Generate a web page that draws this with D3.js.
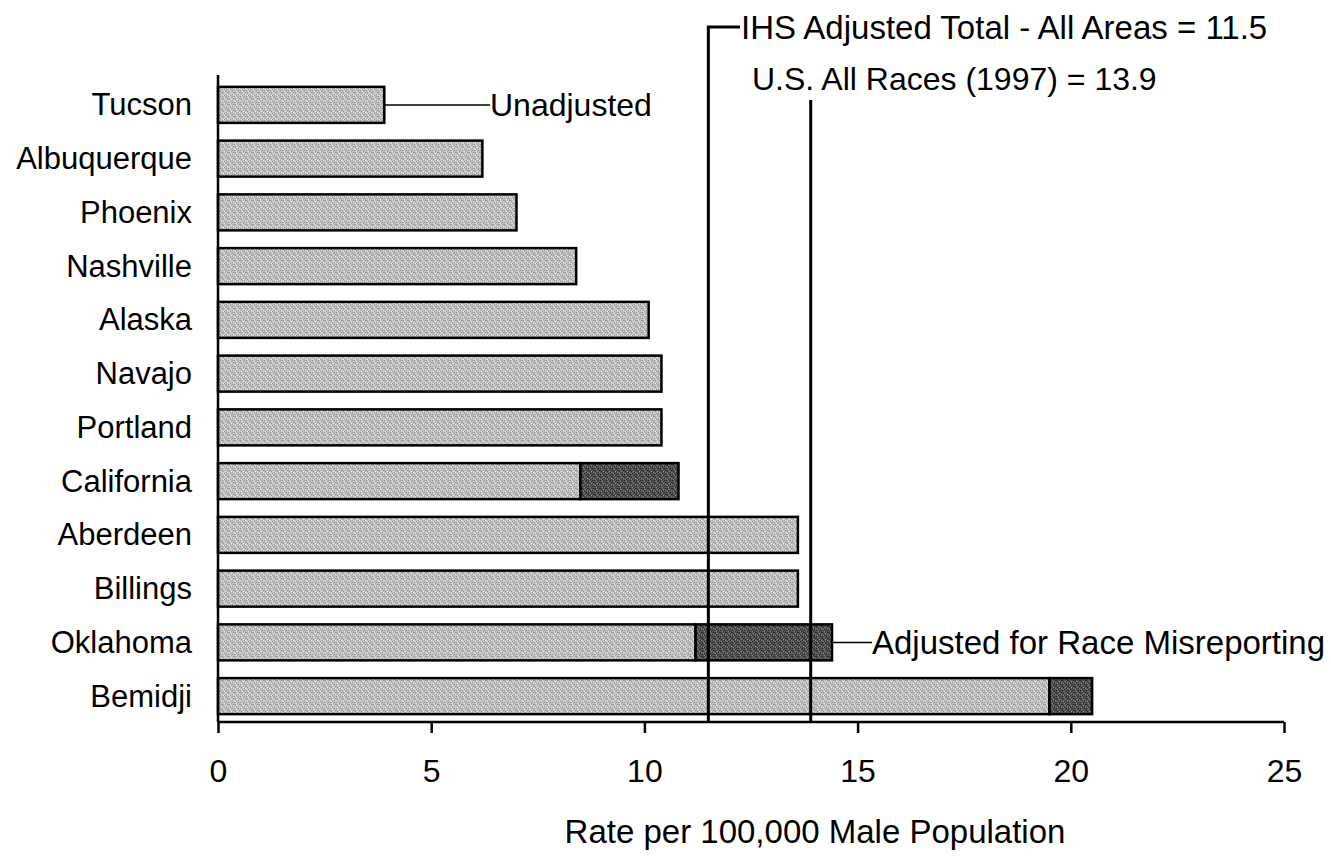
<!DOCTYPE html>
<html>
<head>
<meta charset="utf-8">
<script src="https://cdn.jsdelivr.net/npm/d3@7"></script>
<style>
  html, body { margin: 0; padding: 0; background: #fff; }
  svg { display: block; }
  text { font-family: Arial, "Liberation Sans", sans-serif; fill: #000; }
</style>
</head>
<body>
<svg id="chart" width="1331" height="856"></svg>
<script>
// ---- data ----
const categories = ["Tucson", "Albuquerque", "Phoenix", "Nashville", "Alaska", "Navajo",
                    "Portland", "California", "Aberdeen", "Billings", "Oklahoma", "Bemidji"];
const unadjusted = [3.9, 6.2, 7.0, 8.4, 10.1, 10.4, 10.4, 8.5, 13.6, 13.6, 11.2, 19.5];
const adjusted   = [3.9, 6.2, 7.0, 8.4, 10.1, 10.4, 10.4, 10.8, 13.6, 13.6, 14.4, 20.5];
const xTicks = [0, 5, 10, 15, 20, 25];
const refLines = [
  { label: "IHS Adjusted Total - All Areas = 11.5", value: 11.5 },
  { label: "U.S. All Races (1997) = 13.9", value: 13.9 }
];
const xTitle = "Rate per 100,000 Male Population";

// ---- layout ----
const svg = d3.select("#chart");
const x = d3.scaleLinear().domain([0, 25]).range([218, 1284]);
const y = d3.scaleBand().domain(categories).range([78, 723]).paddingInner(0.33).paddingOuter(0.165);
const axisY = 722;
const FS = 31, FS2 = 33;

// patterns (halftone look)
const defs = svg.append("defs");
function halftone(id, base, dark, light) {
  const p = defs.append("pattern").attr("id", id).attr("patternUnits", "userSpaceOnUse")
    .attr("width", 6).attr("height", 6);
  p.append("rect").attr("width", 6).attr("height", 6).attr("fill", base);
  [[0,0],[3,1],[5,2],[1,3],[4,4],[2,5],[0,2],[4,0]].forEach(([a,b]) => p.append("rect").attr("x", a).attr("y", b).attr("width", 1).attr("height", 1).attr("fill", dark));
  [[2,1],[5,4],[1,5],[3,3]].forEach(([a,b]) => p.append("rect").attr("x", a).attr("y", b).attr("width", 1).attr("height", 1).attr("fill", light));
}
halftone("lightPat", "#c2c2c2", "#959595", "#ececec");
halftone("darkPat", "#545454", "#262626", "#8a8a8a");

// bars
const g = svg.append("g");
categories.forEach((c, i) => {
  g.append("rect")
    .attr("x", x(0)).attr("y", y(c))
    .attr("width", x(unadjusted[i]) - x(0)).attr("height", y.bandwidth())
    .attr("fill", "url(#lightPat)").attr("stroke", "#000").attr("stroke-width", 2.5);
  if (adjusted[i] > unadjusted[i]) {
    g.append("rect")
      .attr("x", x(unadjusted[i])).attr("y", y(c))
      .attr("width", x(adjusted[i]) - x(unadjusted[i])).attr("height", y.bandwidth())
      .attr("fill", "url(#darkPat)").attr("stroke", "#000").attr("stroke-width", 2.5);
  }
});

// y axis line
svg.append("line").attr("x1", x(0)).attr("x2", x(0)).attr("y1", 75).attr("y2", axisY)
  .attr("stroke", "#000").attr("stroke-width", 2.5);

// category labels
svg.selectAll(".cat").data(categories).enter().append("text")
  .attr("x", 192).attr("y", d => y(d) + y.bandwidth() / 2)
  .attr("text-anchor", "end").attr("dominant-baseline", "central")
  .style("font-size", FS + "px").text(d => d);

// x axis
const xAxis = d3.axisBottom(x).tickValues(xTicks).tickSize(11).tickPadding(26).tickFormat(d3.format("d"));
const ax = svg.append("g").attr("transform", `translate(0,${axisY})`).call(xAxis);
ax.select(".domain").attr("stroke", "#000").attr("stroke-width", 2.5).attr("d", `M${x(0)},0H${x(25)}`);
ax.selectAll(".tick line").attr("stroke", "#000").attr("stroke-width", 2.5);
ax.selectAll(".tick text").style("font-size", "32px").style("font-family", "Arial, 'Liberation Sans', sans-serif").attr("fill", "#000");

// axis title
svg.append("text").attr("x", 815).attr("y", 843)
  .attr("text-anchor", "middle").style("font-size", FS2 + "px").text(xTitle);

// reference lines
const ihsX = x(refLines[0].value), usX = x(refLines[1].value);
svg.append("path").attr("d", `M${ihsX},${axisY}V27H740`).attr("fill", "none")
  .attr("stroke", "#000").attr("stroke-width", 3);
svg.append("text").attr("x", 741).attr("y", 27).attr("dominant-baseline", "central")
  .style("font-size", FS2 + "px").text(refLines[0].label);
svg.append("line").attr("x1", usX).attr("x2", usX).attr("y1", axisY).attr("y2", 100)
  .attr("stroke", "#000").attr("stroke-width", 3);
svg.append("text").attr("x", 752).attr("y", 79).attr("dominant-baseline", "central")
  .style("font-size", "32px").text(refLines[1].label);

// callouts
const tY = y("Tucson") + y.bandwidth() / 2;
svg.append("line").attr("x1", x(unadjusted[0])).attr("x2", 490).attr("y1", tY).attr("y2", tY)
  .attr("stroke", "#000").attr("stroke-width", 1.5);
svg.append("text").attr("x", 490).attr("y", tY).attr("dominant-baseline", "central")
  .style("font-size", "32px").text("Unadjusted");
const oY = y("Oklahoma") + y.bandwidth() / 2;
svg.append("line").attr("x1", x(adjusted[10])).attr("x2", 872).attr("y1", oY).attr("y2", oY)
  .attr("stroke", "#000").attr("stroke-width", 1.5);
svg.append("text").attr("x", 872).attr("y", oY).attr("dominant-baseline", "central")
  .style("font-size", FS2 + "px").text("Adjusted for Race Misreporting");
</script>
</body>
</html>
